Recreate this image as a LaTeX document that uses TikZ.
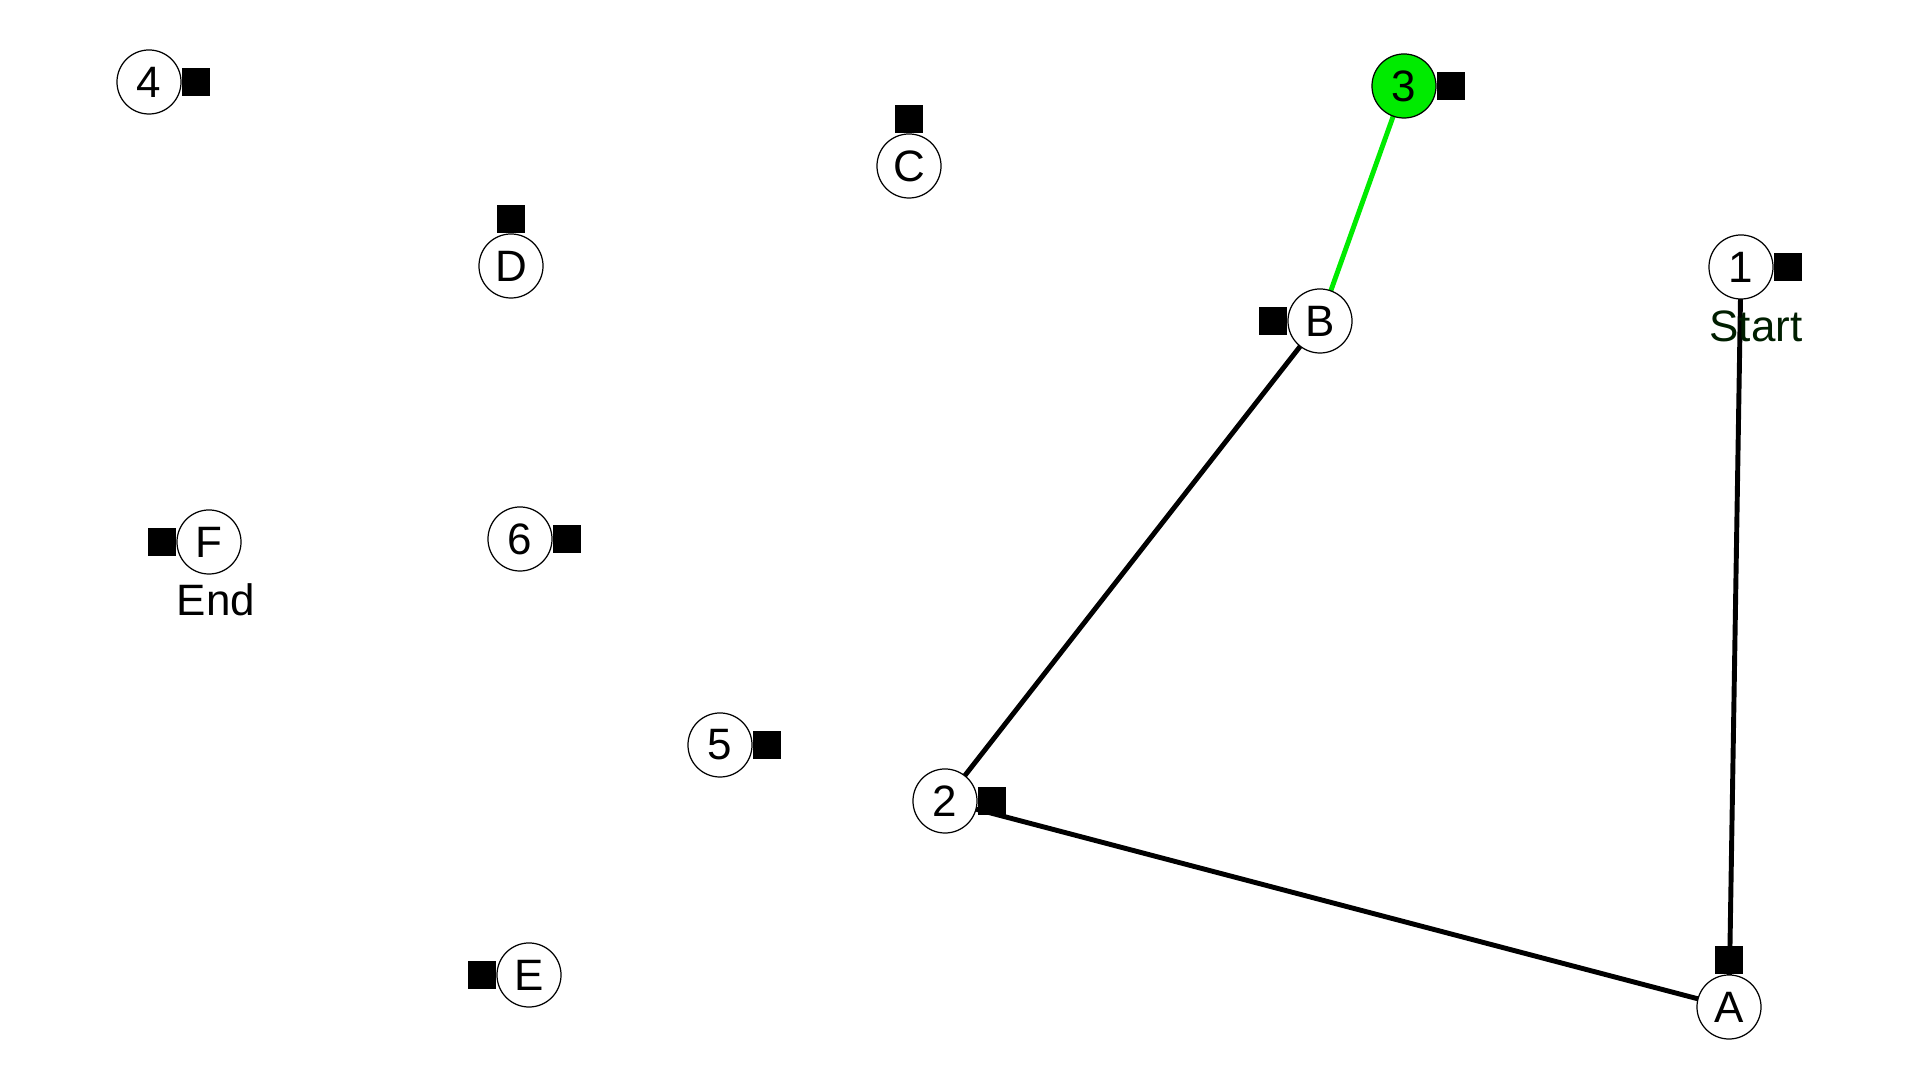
\documentclass[tikz,border=0pt]{standalone}
\usepackage{fontspec}
\setmainfont{Liberation Sans}
\usetikzlibrary{positioning,backgrounds}
\definecolor{pathgreen}{RGB}{0,235,0}
\definecolor{labelgreen}{RGB}{0,30,0}
\tikzset{
    stop/.style={circle, draw, line width=0.35pt, fill=white, minimum size=0.64cm, inner sep=0pt, font=\fontsize{12.5}{14}\selectfont},
    tag/.style={rectangle, fill=black, minimum size=0.28cm, inner sep=0pt},
    leg/.style={line width=1.4pt},
}

\begin{document}
\begin{tikzpicture}[x=0.01cm, y=-0.01cm]
        \useasboundingbox (0,0) rectangle (1920,1080);
        % stops
        \node [stop] (n1) at (1741,267) {1};
        \node [stop] (n2) at (945,801) {2};
        \node [stop, fill=pathgreen] (n3) at (1404,86) {3};
        \node [stop] (n4) at (149,82) {4};
        \node [stop] (n5) at (720,745) {5};
        \node [stop] (n6) at (520,539) {6};
        \node [stop] (nA) at (1729,1007) {A};
        \node [stop] (nB) at (1320,321) {B};
        \node [stop] (nC) at (909,166) {C};
        \node [stop] (nD) at (511,266) {D};
        \node [stop] (nE) at (529,975) {E};
        \node [stop] (nF) at (209,542) {F};
        % tags
        \node [tag, right=0pt of n1] (t1) {};
        \node [tag, right=0pt of n2] (t2) {};
        \node [tag, right=0pt of n3] (t3) {};
        \node [tag, right=0pt of n4] (t4) {};
        \node [tag, right=0pt of n5] (t5) {};
        \node [tag, right=0pt of n6] (t6) {};
        \node [tag, above=0pt of nA] (tA) {};
        \node [tag, left=0pt of nB] (tB) {};
        \node [tag, above=0pt of nC] (tC) {};
        \node [tag, above=0pt of nD] (tD) {};
        \node [tag, left=0pt of nE] (tE) {};
        \node [tag, left=0pt of nF] (tF) {};
        % labels
        \node [text=labelgreen, font=\fontsize{12.5}{14}\selectfont] (start) at (1756,326) {Start};
        \node [font=\fontsize{12.5}{14}\selectfont] (end) at (216,600) {End};
        % route
        \begin{scope}[on background layer]
            \draw [leg] (n1.center) -- (nA.center);
            \draw [leg] (nA.center) -- (n2.center);
            \draw [leg] (n2.center) -- (nB.center);
            \draw [leg, pathgreen] (nB.center) -- (n3.center);
        \end{scope}
    \end{tikzpicture}
\end{document}
